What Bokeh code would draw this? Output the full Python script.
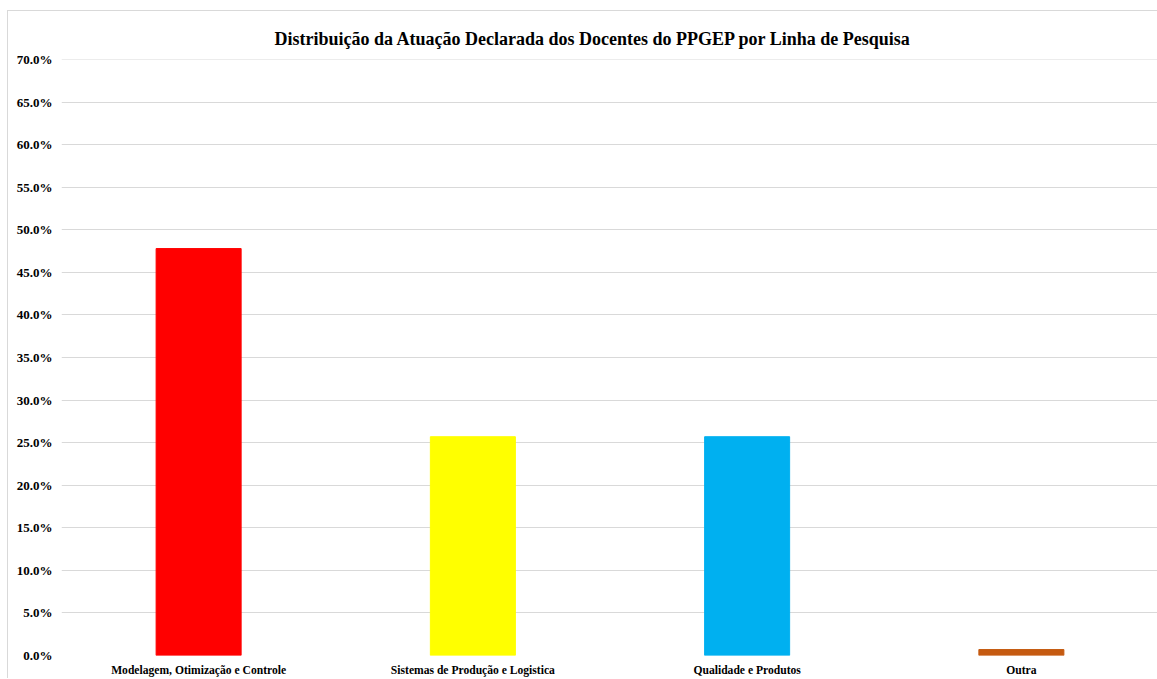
from bokeh.plotting import figure
from bokeh.models import NumeralTickFormatter, FixedTicker, Range1d
from bokeh.embed import file_html
from bokeh.resources import INLINE

categories = ["Modelagem, Otimização e Controle", "Sistemas de Produção e Logistica",
              "Qualidade e Produtos", "Outra"]
values = [0.478, 0.257, 0.257, 0.007]
colors = ["#FF0000", "#FFFF00", "#00B0F0", "#C55A11"]
yticks = [round(i * 0.05, 2) for i in range(15)]

p = figure(x_range=categories, y_range=Range1d(0, 0.7001), width=1150, height=668,
           output_backend="svg", toolbar_location=None,
           title="Distribuição da Atuação Declarada dos Docentes do PPGEP por Linha de Pesquisa",
           min_border_left=53, min_border_right=0, min_border_top=48, min_border_bottom=17)
p.styles = {"margin-top": "10px", "margin-left": "7px",
            "border-top": "1px solid #d9d9d9", "border-left": "1px solid #d9d9d9"}
p.vbar(x=categories, top=values, width=0.31, color=colors)

p.title.align = "left"
p.title.offset = 213
p.title.standoff = 22
p.title.text_font = "Liberation Serif"
p.title.text_font_size = "18px"
p.title.text_font_style = "bold"
p.title.text_color = "#000000"

p.outline_line_color = None
p.xgrid.grid_line_color = None
p.ygrid.grid_line_color = "#d9d9d9"
p.yaxis.ticker = FixedTicker(ticks=yticks)
p.yaxis.formatter = NumeralTickFormatter(format="0.0%")
for ax in (p.xaxis, p.yaxis):
    ax.axis_line_color = None
    ax.major_tick_line_color = None
    ax.minor_tick_line_color = None
    ax.major_label_text_font = "Liberation Serif"
    ax.major_label_text_font_style = "bold"
    ax.major_label_text_color = "#000000"
p.yaxis.major_label_text_font_size = "13px"
p.xaxis.major_label_text_font_size = "11.6px"
p.xaxis.major_label_standoff = 2
p.yaxis.major_label_standoff = 3

open("out.html", "w").write(file_html(p, INLINE))
